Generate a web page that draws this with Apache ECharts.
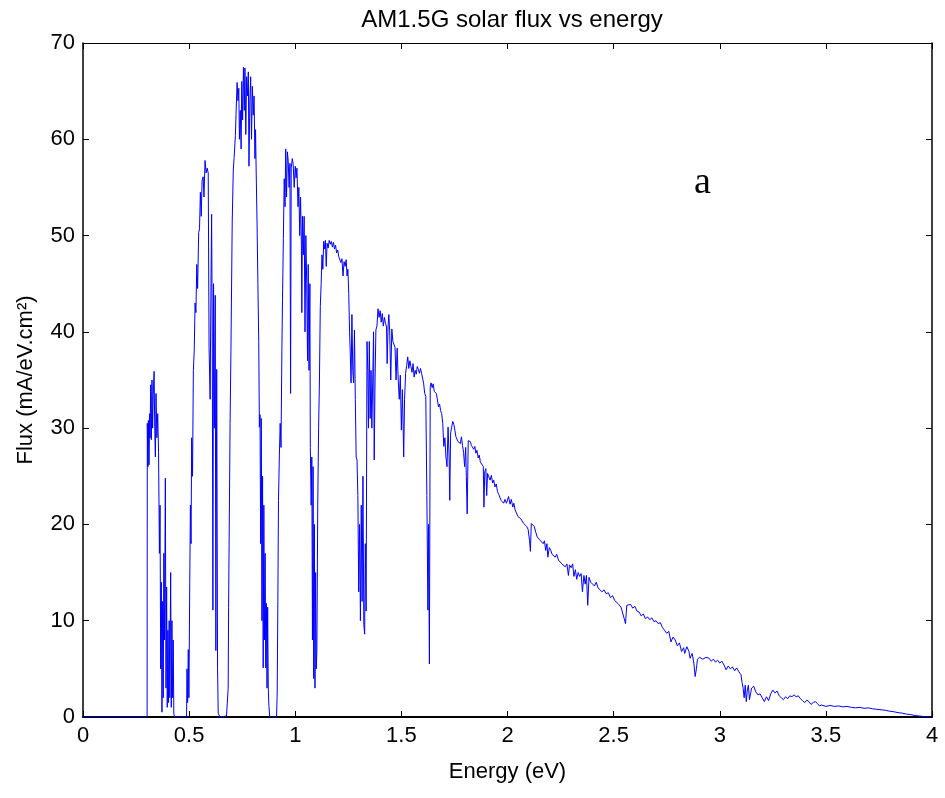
<!DOCTYPE html>
<html>
<head>
<meta charset="utf-8">
<script src="https://cdn.jsdelivr.net/npm/echarts@6/dist/echarts.min.js"></script>
<style>
  html, body { margin: 0; padding: 0; background: #fff; }
  #chart { width: 945px; height: 798px; }
</style>
</head>
<body>
<div id="chart"></div>
<script>
// photon energy (eV) and flux (mA/eV.cm2)
const energy = [
  0, 0.302, 0.303, 0.306, 0.308, 0.311, 0.314, 0.316, 0.319, 0.322, 0.325, 0.328, 0.331, 0.335, 0.338, 0.341, 0.344, 0.348, 0.352, 0.356,
  0.36, 0.363, 0.366, 0.369, 0.372, 0.375, 0.378, 0.381, 0.384, 0.388, 0.391, 0.394, 0.397, 0.4, 0.403, 0.406, 0.409, 0.413, 0.416, 0.419,
  0.422, 0.425, 0.428, 0.432, 0.488, 0.49, 0.493, 0.496, 0.499, 0.503, 0.506, 0.509, 0.512, 0.516, 0.52, 0.524, 0.528, 0.532, 0.536, 0.54,
  0.545, 0.549, 0.553, 0.557, 0.561, 0.566, 0.57, 0.575, 0.58, 0.585, 0.59, 0.594, 0.599, 0.603, 0.606, 0.609, 0.612, 0.615, 0.619, 0.623,
  0.626, 0.63, 0.634, 0.637, 0.645, 0.676, 0.684, 0.686, 0.693, 0.697, 0.703, 0.708, 0.712, 0.718, 0.721, 0.726, 0.73, 0.734, 0.737, 0.741,
  0.745, 0.748, 0.752, 0.756, 0.76, 0.763, 0.767, 0.771, 0.775, 0.779, 0.782, 0.786, 0.79, 0.794, 0.798, 0.802, 0.806, 0.81, 0.813, 0.816,
  0.82, 0.824, 0.828, 0.831, 0.834, 0.837, 0.84, 0.843, 0.846, 0.849, 0.852, 0.855, 0.858, 0.861, 0.864, 0.867, 0.87, 0.873, 0.876, 0.88,
  0.912, 0.915, 0.918, 0.921, 0.925, 0.929, 0.933, 0.937, 0.94, 0.944, 0.948, 0.952, 0.955, 0.959, 0.963, 0.967, 0.971, 0.975, 0.978, 0.981,
  0.986, 0.99, 0.995, 1.0, 1.004, 1.008, 1.013, 1.017, 1.021, 1.025, 1.029, 1.031, 1.034, 1.038, 1.042, 1.046, 1.05, 1.054, 1.058, 1.061,
  1.065, 1.069, 1.071, 1.075, 1.078, 1.081, 1.084, 1.087, 1.09, 1.093, 1.096, 1.099, 1.102, 1.106, 1.11, 1.114, 1.118, 1.122, 1.126, 1.13,
  1.134, 1.138, 1.142, 1.146, 1.15, 1.155, 1.16, 1.165, 1.17, 1.175, 1.18, 1.185, 1.19, 1.195, 1.2, 1.205, 1.21, 1.215, 1.22, 1.225,
  1.23, 1.235, 1.24, 1.244, 1.248, 1.252, 1.256, 1.259, 1.263, 1.267, 1.271, 1.275, 1.279, 1.283, 1.287, 1.291, 1.295, 1.299, 1.303, 1.307,
  1.311, 1.315, 1.319, 1.323, 1.327, 1.33, 1.334, 1.338, 1.342, 1.345, 1.349, 1.353, 1.357, 1.361, 1.365, 1.369, 1.372, 1.376, 1.38, 1.385,
  1.39, 1.395, 1.4, 1.405, 1.41, 1.415, 1.42, 1.425, 1.43, 1.433, 1.437, 1.441, 1.445, 1.45, 1.455, 1.46, 1.465, 1.47, 1.475, 1.48,
  1.485, 1.49, 1.495, 1.5, 1.505, 1.511, 1.515, 1.52, 1.525, 1.53, 1.535, 1.54, 1.545, 1.55, 1.555, 1.56, 1.565, 1.57, 1.575, 1.58,
  1.585, 1.59, 1.595, 1.6, 1.605, 1.61, 1.615, 1.62, 1.625, 1.628, 1.632, 1.636, 1.64, 1.645, 1.65, 1.655, 1.66, 1.665, 1.67, 1.675,
  1.68, 1.685, 1.69, 1.695, 1.7, 1.705, 1.71, 1.715, 1.72, 1.725, 1.728, 1.732, 1.737, 1.742, 1.747, 1.752, 1.757, 1.762, 1.767, 1.772,
  1.778, 1.783, 1.788, 1.793, 1.798, 1.803, 1.806, 1.81, 1.815, 1.82, 1.825, 1.83, 1.835, 1.841, 1.846, 1.851, 1.856, 1.862, 1.867, 1.872,
  1.877, 1.881, 1.886, 1.889, 1.893, 1.898, 1.902, 1.906, 1.912, 1.918, 1.924, 1.93, 1.935, 1.941, 1.947, 1.953, 1.959, 1.965, 1.97, 1.976,
  1.982, 1.988, 1.995, 2.0, 2.005, 2.012, 2.018, 2.025, 2.03, 2.036, 2.043, 2.05, 2.056, 2.062, 2.07, 2.076, 2.083, 2.09, 2.097, 2.104,
  2.108, 2.112, 2.12, 2.126, 2.133, 2.14, 2.146, 2.152, 2.16, 2.168, 2.174, 2.18, 2.186, 2.19, 2.197, 2.204, 2.21, 2.218, 2.225, 2.232,
  2.24, 2.248, 2.256, 2.264, 2.272, 2.28, 2.287, 2.292, 2.3, 2.307, 2.313, 2.32, 2.326, 2.333, 2.34, 2.347, 2.353, 2.36, 2.366, 2.372,
  2.378, 2.384, 2.392, 2.4, 2.41, 2.418, 2.427, 2.435, 2.445, 2.455, 2.465, 2.475, 2.485, 2.495, 2.505, 2.513, 2.52, 2.527, 2.535, 2.542,
  2.55, 2.556, 2.562, 2.57, 2.58, 2.59, 2.6, 2.61, 2.62, 2.63, 2.64, 2.65, 2.66, 2.67, 2.68, 2.69, 2.7, 2.71, 2.72, 2.73,
  2.74, 2.75, 2.76, 2.77, 2.775, 2.78, 2.79, 2.8, 2.81, 2.82, 2.83, 2.835, 2.845, 2.855, 2.86, 2.87, 2.878, 2.884, 2.89, 2.895,
  2.905, 2.92, 2.935, 2.95, 2.96, 2.97, 2.98, 2.99, 3.0, 3.01, 3.02, 3.03, 3.04, 3.05, 3.06, 3.07, 3.08, 3.09, 3.1, 3.105,
  3.11, 3.115, 3.12, 3.125, 3.13, 3.135, 3.14, 3.145, 3.15, 3.16, 3.17, 3.18, 3.19, 3.2, 3.21, 3.22, 3.23, 3.24, 3.25, 3.26,
  3.27, 3.28, 3.29, 3.3, 3.31, 3.32, 3.33, 3.34, 3.35, 3.36, 3.37, 3.38, 3.39, 3.4, 3.41, 3.42, 3.43, 3.44, 3.45, 3.46,
  3.47, 3.48, 3.5, 3.52, 3.54, 3.56, 3.58, 3.6, 3.62, 3.64, 3.66, 3.68, 3.7, 3.72, 3.74, 3.76, 3.78, 3.8, 3.82, 3.84,
  3.86, 3.88, 3.9, 3.92, 3.94, 3.96, 3.98, 4.0
];
const flux = [
  0, 0, 30.5, 26, 30.8, 26.2, 31.5, 29, 34.5, 28.8, 35, 30, 33.5, 35.9, 30, 27, 33.6, 29, 31.5, 27.5,
  17, 22, 5, 14, 0.5, 12, 2, 17, 8, 24.8, 3, 13.5, 1, 9, 1.5, 10, 2, 15, 1, 10,
  2, 8, 0.3, 0, 0, 5, 1.5, 7, 2, 14, 22, 18, 29, 25, 36, 38, 43, 42, 47, 44.5,
  50.3, 50.7, 54.5, 52, 55.7, 56.1, 54, 57.8, 56.5, 57, 56.5, 38.4, 33, 45, 52.2, 40, 11.1, 45, 30, 43.8,
  6.9, 36.1, 5, 0.4, 0, 0.1, 3, 11.4, 30.5, 38.1, 51.4, 56.8, 58.1, 60.4, 62.6, 65.9, 64, 65.3, 60, 63,
  59, 66, 62, 67.5, 63, 67.4, 60.5, 66.5, 64.5, 67, 57.2, 64, 66.5, 60, 65.5, 62.5, 64.5, 58, 61, 56.5,
  51.4, 45, 39, 30.1, 31.4, 18, 31, 10, 25, 5.1, 22, 8, 17, 5.1, 11.8, 3, 11.4, 2.9, 1.1, 0,
  0, 2.5, 12, 22.5, 27, 30.5, 28, 38.1, 43.4, 49.7, 55.9, 53, 59, 54, 58.7, 57.7, 55, 57.5, 33.6, 57,
  58, 57.5, 55, 57.2, 56, 57, 53, 55, 50, 54, 49, 42, 52, 48, 52, 40, 50, 45, 37, 47,
  36, 45, 28, 22, 27, 8, 26, 4, 20, 3, 15, 5, 7, 22, 30, 35, 42.6, 45, 48, 46.5,
  49.4, 48.6, 49.5, 46.8, 49.2, 48.7, 49.5, 49.1, 49.4, 48.8, 49.3, 48.6, 49, 48.2, 48.5, 47.8, 48, 47.2, 47.6, 45.8,
  47.3, 46.8, 47.5, 45.8, 46.5, 44, 40, 37.9, 34.7, 41.8, 36, 34.7, 40.2, 33, 27, 26.7, 23, 13, 20, 10,
  22, 12, 25, 9.6, 8.6, 18, 11, 39, 36, 30, 39, 31, 36, 30, 35, 40, 26.7, 35, 40.2, 40.6,
  42.4, 41.5, 42.2, 41, 41.9, 40.6, 41.5, 40.9, 40.5, 36.7, 40.5, 41.8, 40, 35, 40.3, 39, 39.1, 38.4, 35, 38.3,
  35.1, 33, 35.5, 29.8, 34, 27, 33, 35.7, 36.5, 37.4, 36.2, 37, 36.4, 35.8, 36.7, 35.3, 36, 35.6, 36.4, 36.1,
  35.7, 36.2, 35.7, 35.2, 34.6, 33.6, 33.3, 23, 11.1, 20, 5.5, 34.3, 34.7, 34.2, 34.6, 33.8, 34, 33.6, 33.4, 32.2,
  32.5, 31.8, 31.5, 30.5, 28.1, 29, 27, 26, 30.1, 27, 22.5, 29.5, 30.1, 30.7, 30.4, 29.8, 29.1, 29.3, 28.6, 28.8,
  28.4, 29.1, 28.2, 27.5, 26, 28, 25, 21.1, 28.7, 28.5, 28.6, 28.2, 28.4, 27.8, 28.1, 27.4, 27.7, 26.9, 27.2, 26.5,
  26.7, 26.3, 26, 21.8, 25.5, 25.8, 23, 25.3, 25.5, 24.6, 25.1, 24.3, 24.6, 23.9, 24.2, 23.4, 23.1, 23.2, 22.5, 22.6,
  22.2, 22.6, 22.2, 22, 22.9, 22.1, 22.6, 21.8, 22.2, 21.5, 21.3, 20.8, 21, 20.6, 20.4, 20.1, 20.3, 19.8, 19.5, 18.3,
  17.2, 20.1, 19.9, 19.8, 19.2, 18.7, 18.9, 18.4, 18.6, 18, 18.3, 17.3, 18, 16.6, 17.6, 17.3, 16.9, 17.1, 16.6, 16.9,
  16.3, 16.4, 15.9, 16.1, 15.6, 15.9, 14.7, 15.8, 15.5, 15.9, 14.6, 15.3, 14.3, 15, 14.6, 14.9, 13, 14.7, 13.8, 14.7,
  11.6, 14.5, 14, 14.2, 13.6, 14, 13.4, 13.6, 13, 13.2, 12.8, 12.9, 12.4, 12.6, 12.1, 12.3, 11.8, 11.9, 11.4, 11.6,
  10.2, 9.7, 11.6, 11.8, 11.7, 11.3, 11.5, 11, 10.9, 10.5, 10.7, 10.2, 10.4, 10.1, 10.3, 9.9, 10, 9.7, 9.8, 9.3,
  9, 8.7, 8.9, 7.8, 7.6, 8.3, 8, 7.4, 7.7, 6.8, 7.2, 6.6, 7.3, 6.8, 6.1, 6.6, 5.6, 4.2, 5, 6,
  6.2, 6, 6.2, 6.1, 5.8, 6, 5.7, 5.9, 5.6, 5.8, 5.4, 4.9, 5.3, 5, 5.2, 4.8, 5.1, 4.7, 4.4, 3.6,
  3, 2, 3.3, 1.6, 2.8, 3.3, 1.8, 1.6, 3, 3.2, 2.6, 2.3, 2.4, 2, 1.6, 2.1, 1.7, 2.4, 2.8, 2.5,
  2.7, 2.2, 2, 1.8, 2.1, 1.9, 2.2, 2.1, 2.3, 2.1, 2.2, 1.9, 1.7, 1.5, 1.75, 1.6, 1.3, 1.5, 1.6, 1.4,
  1.15, 1.25, 1.1, 1.2, 1.1, 1.15, 1.05, 1.1, 1, 0.95, 1, 0.9, 0.95, 0.85, 0.8, 0.75, 0.7, 0.6, 0.55, 0.45,
  0.4, 0.3, 0.25, 0.15, 0.1, 0.05, 0, 0
];

const font = 'Liberation Sans, Arial, sans-serif';
const chart = echarts.init(document.getElementById('chart'));

const boxAxis = (pos, showLabel, lineWidth) => ({
  axisLine: { show: true, onZero: false, lineStyle: { color: '#000', width: lineWidth } },
  axisTick: { show: true, inside: true, length: 6, lineStyle: { color: '#000' } },
  axisLabel: { show: showLabel, color: '#000', fontSize: 22, fontFamily: font },
  splitLine: { show: false },
  position: pos
});

const options = {
  backgroundColor: '#fff',
  animation: false,
  title: {
    text: 'AM1.5G solar flux vs energy',
    left: 507,
    top: 3,
    textAlign: 'center',
    textStyle: { color: '#000', fontSize: 24, fontWeight: 'normal', fontFamily: font }
  },
  grid: { left: 83, right: 13, top: 43, bottom: 81 },
  xAxis: [
    Object.assign(boxAxis('bottom', true, 2), {
      type: 'value', min: 0, max: 4, interval: 0.5,
      name: 'Energy (eV)', nameLocation: 'middle', nameGap: 44,
      nameTextStyle: { color: '#000', fontSize: 22, fontFamily: font }
    }),
    Object.assign(boxAxis('top', false, 1), { type: 'value', min: 0, max: 4, interval: 0.5 })
  ],
  yAxis: [
    Object.assign(boxAxis('left', true, 1.5), {
      type: 'value', min: 0, max: 70, interval: 10,
      name: 'Flux (mA/eV.cm²)', nameLocation: 'middle', nameGap: 46, nameRotate: 90,
      nameTextStyle: { color: '#000', fontSize: 22, fontFamily: font }
    }),
    Object.assign(boxAxis('right', false, 1.5), { type: 'value', min: 0, max: 70, interval: 10 })
  ],
  graphic: [{
    type: 'text',
    left: 694,
    top: 164,
    style: { text: 'a', fill: '#000', font: '38px "Liberation Serif", "Times New Roman", serif' }
  }],
  series: [{
    type: 'line',
    data: energy.map((e, i) => [e, flux[i]]),
    showSymbol: false,
    smooth: false,
    lineStyle: { color: '#0000ff', width: 1 },
    itemStyle: { color: '#0000ff' }
  }]
};

chart.setOption(options);
</script>
</body>
</html>
